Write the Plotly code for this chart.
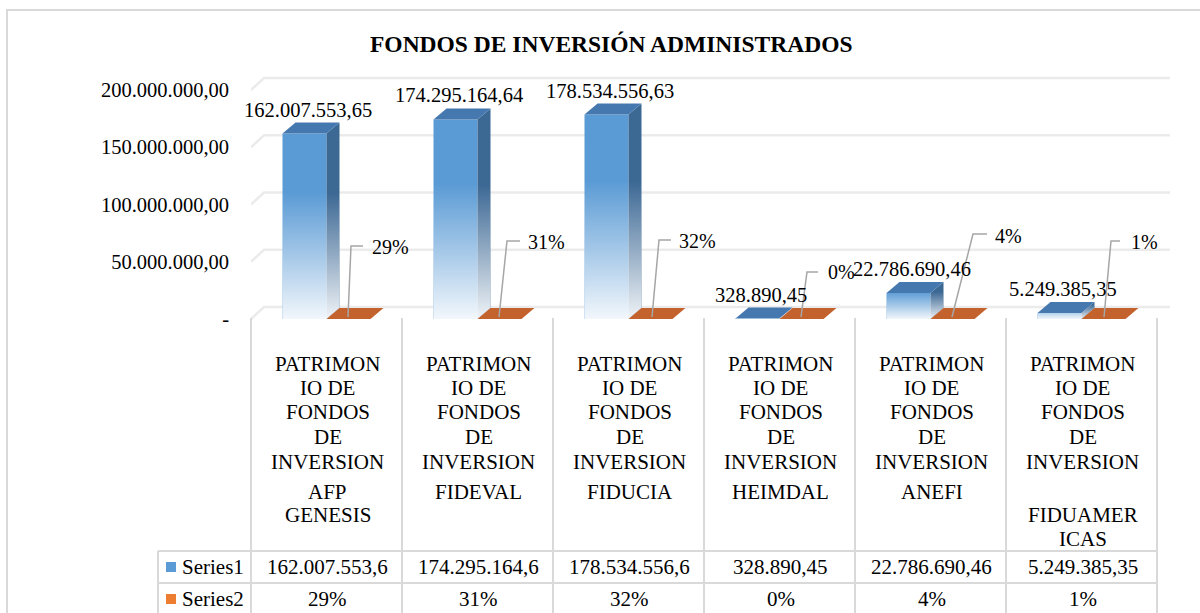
import plotly.graph_objects as go

# ---------------- data ----------------
categories = [
    "PATRIMONIO DE FONDOS DE INVERSION AFP GENESIS",
    "PATRIMONIO DE FONDOS DE INVERSION FIDEVAL",
    "PATRIMONIO DE FONDOS DE INVERSION FIDUCIA",
    "PATRIMONIO DE FONDOS DE INVERSION HEIMDAL",
    "PATRIMONIO DE FONDOS DE INVERSION ANEFI",
    "PATRIMONIO DE FONDOS DE INVERSION FIDUAMERICAS",
]
category_lines = [
    ["PATRIMON", "IO DE", "FONDOS", "DE", "INVERSION", "AFP", "GENESIS", ""],
    ["PATRIMON", "IO DE", "FONDOS", "DE", "INVERSION", "FIDEVAL", "", ""],
    ["PATRIMON", "IO DE", "FONDOS", "DE", "INVERSION", "FIDUCIA", "", ""],
    ["PATRIMON", "IO DE", "FONDOS", "DE", "INVERSION", "HEIMDAL", "", ""],
    ["PATRIMON", "IO DE", "FONDOS", "DE", "INVERSION", "ANEFI", "", ""],
    ["PATRIMON", "IO DE", "FONDOS", "DE", "INVERSION", "", "FIDUAMER", "ICAS"],
]
series_names = ["Series1", "Series2"]
series1 = [162007553.65, 174295164.64, 178534556.63, 328890.45, 22786690.46, 5249385.35]
series2 = [0.29, 0.31, 0.32, 0.00, 0.04, 0.01]
y_tickvals = [0, 50e6, 100e6, 150e6, 200e6]
y_ticktext = ["-", "50.000.000,00", "100.000.000,00", "150.000.000,00", "200.000.000,00"]
title_text = "FONDOS DE INVERSIÓN ADMINISTRADOS"

# ---------------- layout geometry (pixels) ----------------
W, H = 1200, 613
PL, PR, PT, PB = 251, 1172, 70, 321
CAT_PX = 151
FLOOR_PX = 319
PX_PER_VAL = 229 / 200e6
X0 = -0.5
X1 = X0 + (PR - PL) / CAT_PX
Y0 = -(PB - FLOOR_PX) / PX_PER_VAL
Y1 = (FLOOR_PX - PT) / PX_PER_VAL
BAR_W = 44 / CAT_PX
DX = 13 / CAT_PX
DY = 11 / PX_PER_VAL
GDX = 13 / CAT_PX
GDY = 12 / PX_PER_VAL

SERIF = "Liberation Serif"
LABEL_SIZE = 20.5
TABLE_SIZE = 21
BLUE = "#5B9BD5"
BLUE_SIDE = "#3C6894"
BLUE_TOP = "#4678B0"
ORANGE = "#ED7D31"
ORANGE_TOP = "#C4622D"
GRID = "#EBEBEB"
TABLE_LINE = "#D9D9D9"


def px_x(px):
    return (px - PL) / (PR - PL)


def px_y(py):
    return (PB - py) / (PB - PT)


def fmt_eu(v, dec=2):
    s = f"{v:,.{dec}f}"
    return s.replace(",", "X").replace(".", ",").replace("X", ".")


def fmt_pct(v):
    return f"{round(v * 100):d}%"


n = len(series1)
xs = list(range(n))

fig = go.Figure()

# front faces of columns
fig.add_trace(go.Bar(x=xs, y=series1, width=[BAR_W] * n, offset=[-BAR_W] * n,
                     marker=dict(color=BLUE, line=dict(width=0)), name=series_names[0],
                     hoverinfo="skip"))
fig.add_trace(go.Bar(x=xs, y=series2, width=[BAR_W] * n, offset=[0] * n,
                     marker=dict(color=ORANGE, line=dict(width=0)), name=series_names[1],
                     hoverinfo="skip"))

# 3D side / top faces + gradient for Series1
for i, v in enumerate(series1):
    fig.add_trace(go.Scatter(x=[i, i + DX, i + DX, i, i], y=[0, DY, v + DY, v, 0],
                             mode="lines", fill="toself", fillcolor=BLUE_SIDE,
                             line=dict(width=0), hoverinfo="skip", showlegend=False))
    fig.add_trace(go.Scatter(x=[i - BAR_W, i, i + DX, i - BAR_W + DX, i - BAR_W],
                             y=[v, v, v + DY, v + DY, v],
                             mode="lines", fill="toself", fillcolor=BLUE_TOP,
                             line=dict(width=0), hoverinfo="skip", showlegend=False))
    fig.add_trace(go.Scatter(x=[i - BAR_W, i, i + DX, i + DX, i, i - BAR_W, i - BAR_W],
                             y=[0, 0, DY, v + DY, v, v, 0],
                             mode="lines", fill="toself",
                             fillgradient=dict(type="vertical", start=0, stop=0.62 * v + DY,
                                               colorscale=[[0, "rgba(255,255,255,0.92)"],
                                                           [0.5, "rgba(255,255,255,0.45)"],
                                                           [1, "rgba(255,255,255,0)"]]),
                             line=dict(width=0), hoverinfo="skip", showlegend=False))

# Series2 slabs (top faces at their tiny heights)
for i, s in enumerate(series2):
    fig.add_trace(go.Scatter(x=[i, i + BAR_W, i + BAR_W + DX, i + DX, i],
                             y=[s, s, s + DY, s + DY, s],
                             mode="lines", fill="toself", fillcolor=ORANGE_TOP,
                             line=dict(width=0), hoverinfo="skip", showlegend=False))

shapes = []
annotations = []

# back-wall gridlines (3D offset)
for t in y_tickvals:
    shapes.append(dict(type="path", xref="x", yref="y", layer="below",
                       path=f"M {X0},{t} L {X0 + GDX},{t + GDY} L {X0 + n + GDX},{t + GDY}",
                       line=dict(color=GRID, width=2.5)))

# callout leader lines for Series2 labels (pixel offsets from category base)
callouts = [
    ((21.5, 2), (24.5, 73), (36.5, 73), (63.5, 72)),
    ((21.5, 2), (29.5, 78), (42.5, 78), (68.5, 77)),
    ((23.5, 2), (30.5, 79), (42.5, 79), (68.5, 78)),
    ((21.5, 2), (27.5, 47), (38.5, 47), (61.5, 47)),
    ((21.5, 2), (42.5, 85), (56.5, 85), (77.5, 83)),
    ((22.5, 2), (29.5, 78), (38.5, 78), (62.5, 77)),
]
for i, (a, b, c, tpos) in enumerate(callouts):
    shapes.append(dict(type="path", xref="x", yref="y", xsizemode="pixel", ysizemode="pixel",
                       xanchor=i, yanchor=0,
                       path=f"M {a[0]},{a[1]} L {b[0]},{b[1]} L {c[0]},{c[1]}",
                       line=dict(color="#A6A6A6", width=1.5)))
    annotations.append(dict(x=i, y=0, xref="x", yref="y", text=fmt_pct(series2[i]),
                            showarrow=False, xshift=tpos[0], yshift=tpos[1],
                            xanchor="center", yanchor="middle",
                            font=dict(family=SERIF, size=20, color="black")))

# Series1 data labels
for i, v in enumerate(series1):
    annotations.append(dict(x=i - BAR_W / 2, y=v, xref="x", yref="y", text=fmt_eu(v),
                            showarrow=False, xshift=3, yshift=24,
                            xanchor="center", yanchor="middle",
                            font=dict(family=SERIF, size=LABEL_SIZE, color="black")))

# ---------------- data table ----------------
TOP_T, ROW1, ROW2, BOT_T = 318, 551, 583, 620
LEFT_T = 158
for k in range(n + 1):
    xp = PL + CAT_PX * k
    shapes.append(dict(type="line", xref="paper", yref="paper",
                       x0=px_x(xp), x1=px_x(xp), y0=px_y(TOP_T), y1=px_y(BOT_T),
                       line=dict(color=TABLE_LINE, width=2)))
shapes.append(dict(type="line", xref="paper", yref="paper",
                   x0=px_x(LEFT_T), x1=px_x(LEFT_T), y0=px_y(ROW1), y1=px_y(BOT_T),
                   line=dict(color=TABLE_LINE, width=2)))
for yr in (ROW1, ROW2):
    shapes.append(dict(type="line", xref="paper", yref="paper",
                       x0=px_x(LEFT_T), x1=px_x(PL + CAT_PX * n), y0=px_y(yr), y1=px_y(yr),
                       line=dict(color=TABLE_LINE, width=2)))

line_y = [364, 388, 412, 437, 462, 492, 515, 539]
for i, lines in enumerate(category_lines):
    cx = PL + CAT_PX * (i + 0.5) + 1
    for j, ln in enumerate(lines):
        if not ln:
            continue
        annotations.append(dict(x=px_x(cx), y=px_y(line_y[j]), xref="paper", yref="paper",
                                text=ln, showarrow=False, xanchor="center", yanchor="middle",
                                font=dict(family=SERIF, size=TABLE_SIZE, color="black")))

row_y = [567, 599]
key_colors = [BLUE, ORANGE]
row_vals = [[fmt_eu(v)[:13] for v in series1], [fmt_pct(s) for s in series2]]
for r in range(2):
    shapes.append(dict(type="rect", xref="paper", yref="paper",
                       x0=px_x(166), x1=px_x(176), y0=px_y(row_y[r] + 5), y1=px_y(row_y[r] - 5),
                       fillcolor=key_colors[r], line=dict(width=0)))
    annotations.append(dict(x=px_x(180), y=px_y(row_y[r]), xref="paper", yref="paper",
                            text=series_names[r], showarrow=False, xanchor="left", yanchor="middle",
                            font=dict(family=SERIF, size=TABLE_SIZE, color="black")))
    for i in range(n):
        cx = PL + CAT_PX * (i + 0.5) + 1
        annotations.append(dict(x=px_x(cx), y=px_y(row_y[r]), xref="paper", yref="paper",
                                text=row_vals[r][i], showarrow=False, xanchor="center",
                                yanchor="middle",
                                font=dict(family=SERIF, size=TABLE_SIZE, color="black")))

# chart border and title
shapes.append(dict(type="rect", xref="paper", yref="paper",
                   x0=px_x(7), x1=px_x(1230), y0=px_y(10), y1=px_y(640),
                   line=dict(color="#D9D9D9", width=2), fillcolor="rgba(0,0,0,0)", layer="below"))
annotations.append(dict(x=px_x(611), y=px_y(44), xref="paper", yref="paper", text=f"<b>{title_text}</b>",
                        showarrow=False, xanchor="center", yanchor="middle",
                        font=dict(family=SERIF, size=23.5, color="black")))

fig.update_layout(
    width=W, height=H,
    margin=dict(l=PL, r=W - PR, t=PT, b=H - PB, pad=0),
    paper_bgcolor="white", plot_bgcolor="rgba(0,0,0,0)",
    barmode="overlay", showlegend=False,
    font=dict(family=SERIF),
    xaxis=dict(range=[X0, X1], showticklabels=False, showgrid=False, zeroline=False,
               showline=False, ticks="", fixedrange=True),
    yaxis=dict(range=[Y0, Y1], tickvals=y_tickvals, ticktext=y_ticktext, showgrid=False,
               zeroline=False, showline=False, ticks="", ticklabelstandoff=21,
               tickfont=dict(family=SERIF, size=LABEL_SIZE, color="black"), fixedrange=True),
    shapes=shapes, annotations=annotations,
)

fig.write_html(
    "out.html",
    config={"displayModeBar": False},
    post_script="document.body.style.margin='0';document.body.style.overflow='hidden';",
)
